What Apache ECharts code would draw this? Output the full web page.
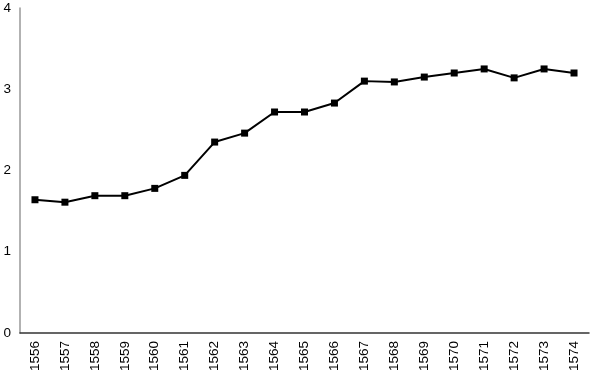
<!DOCTYPE html>
<html><head><meta charset="utf-8">
<script src="https://cdn.jsdelivr.net/npm/echarts@6/dist/echarts.min.js"></script>
<style>html,body{margin:0;padding:0;background:#fff}#c{width:591px;height:385px}</style>
</head><body><div id="c"></div>
<script>
var years = ['1556','1557','1558','1559','1560','1561','1562','1563','1564','1565','1566','1567','1568','1569','1570','1571','1572','1573','1574'];
var values = [1.64,1.61,1.69,1.69,1.78,1.94,2.35,2.46,2.72,2.72,2.83,3.10,3.09,3.15,3.20,3.25,3.14,3.25,3.20];
var chart = echarts.init(document.getElementById('c'));
chart.setOption({
  animation: false,
  grid: {left: 20, right: 2, top: 8, bottom: 52, containLabel: false},
  xAxis: {
    type: 'category', data: years, boundaryGap: true,
    axisLine: {lineStyle: {color: '#333', width: 1.5}},
    axisTick: {show: false},
    axisLabel: {rotate: 90, color: '#000', fontFamily: 'Liberation Sans, Arial', fontSize: 13.5, margin: 8, interval: 0}
  },
  yAxis: {
    type: 'value', min: 0, max: 4, interval: 1,
    axisLine: {show: true, lineStyle: {color: '#999', width: 1.5}},
    axisTick: {show: false},
    splitLine: {show: false},
    axisLabel: {color: '#000', fontFamily: 'Liberation Sans, Arial', fontSize: 13.5, margin: 9}
  },
  series: [{
    type: 'line', data: values,
    symbol: 'rect', symbolSize: 7,
    lineStyle: {color: '#000', width: 2},
    itemStyle: {color: '#000'}
  }]
});
</script></body></html>
